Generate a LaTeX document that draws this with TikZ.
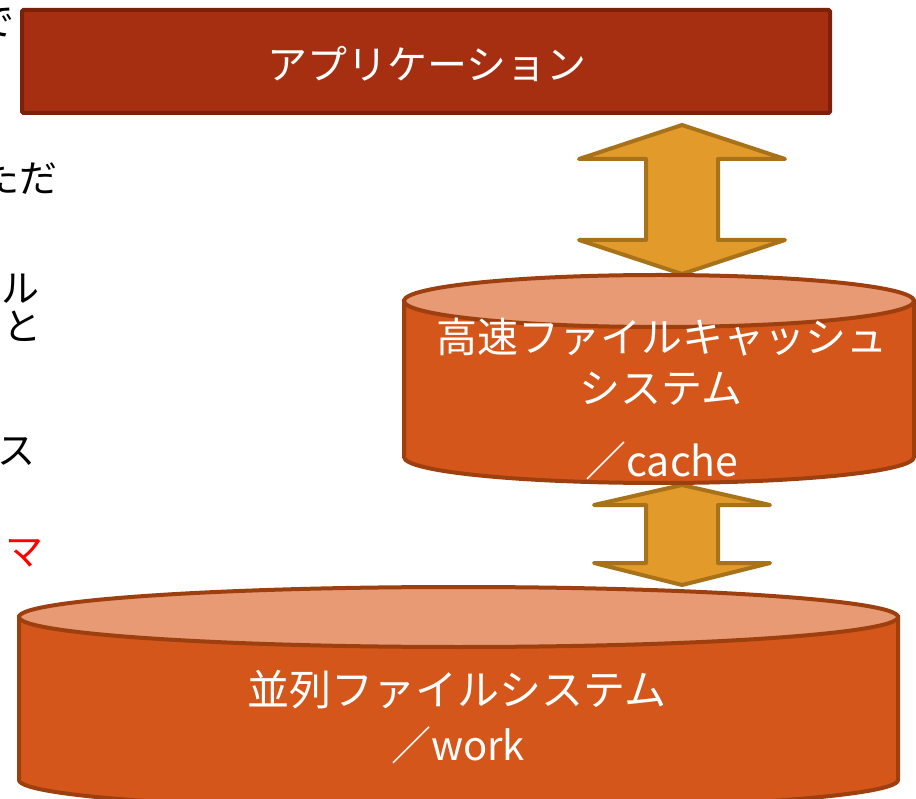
\documentclass[tikz,border=0pt]{standalone}
\usepackage{fontspec}
\setmainfont{Noto Sans CJK JP}
\definecolor{appfill}{HTML}{A52F10}
\definecolor{appline}{HTML}{7B2009}
\definecolor{cylbody}{HTML}{D4561A}
\definecolor{cyltop}{HTML}{E79A73}
\definecolor{cylline}{HTML}{9E3F10}
\definecolor{arrfill}{HTML}{E29A2A}
\definecolor{arrline}{HTML}{A8721A}
\definecolor{fragred}{HTML}{FF0000}
\tikzset{
  frag/.style={inner sep=0pt, anchor=east, font=\fontsize{38}{40}\selectfont, text=black},
  apptext/.style={inner sep=0pt, text=white, font=\fontsize{40}{44}\selectfont},
  cyltext/.style={inner sep=0pt, text=white, font=\fontsize{41}{44}\selectfont},
  dblarrow/.style={draw=arrline, fill=arrfill, line width=4pt, line join=round},
  cylside/.style={draw=cylline, fill=cylbody, line width=4pt},
  cyltopst/.style={draw=cylline, fill=cyltop, line width=4pt},
}
\begin{document}
\begin{tikzpicture}[x=1pt,y=-1pt]
\useasboundingbox (0,0) rectangle (916,799);
\clip (0,0) rectangle (916,799);

% cut-off text on the left
\node[frag] (f1) at (15,22) {で};
\node[frag] (f2) at (58,178) {ただ};
\node[frag] (f3) at (40,289) {ル};
\node[frag] (f4) at (42,326) {と};
\node[frag] (f5) at (36,452) {ス};
\node[frag, text=fragred] (f6) at (44,553) {マ};

% application box
\draw[draw=appline, fill=appfill, line width=4pt, rounded corners=1.5pt]
  (22,10) rectangle (830,113);
\node[apptext] (app) at (427,64) {アプリケーション};

% upper double arrow
\draw[dblarrow] (682,125) -- (785,159) -- (718,159) -- (718,240) -- (785,240)
  -- (682,274) -- (579,240) -- (646,240) -- (646,159) -- (579,159) -- cycle;

% lower double arrow
\draw[dblarrow] (682,485) -- (770,505) -- (718,505) -- (718,563) -- (770,563)
  -- (682,585) -- (594,563) -- (646,563) -- (646,505) -- (594,505) -- cycle;

% cache cylinder
\draw[cylside] (404,301) -- (404,457)
  arc[start angle=180, end angle=360, x radius=255pt, y radius=26pt]
  -- (914,301) -- cycle;
\draw[cyltopst] (659,301) ellipse[x radius=255pt, y radius=26pt];
\node[cyltext] (cache1) at (662,337) {高速ファイルキャッシュ};
\node[cyltext] (cache2) at (661,389) {システム};
\node[cyltext] (cache3) at (662,461) {／cache};

% work cylinder
\draw[cylside] (19,617) -- (19,780)
  arc[start angle=180, end angle=360, x radius=439.5pt, y radius=30pt]
  -- (898,617) -- cycle;
\draw[cyltopst] (458.5,617) ellipse[x radius=439.5pt, y radius=30pt];
\node[cyltext, font=\fontsize{42}{44}\selectfont] (work1) at (457,690) {並列ファイルシステム};
\node[cyltext, font=\fontsize{40}{44}\selectfont] (work2) at (458,745) {／work};
\end{tikzpicture}
\end{document}
